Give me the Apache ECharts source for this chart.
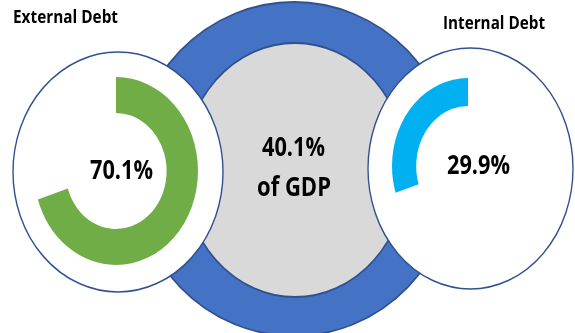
<!DOCTYPE html>
<html>
<head>
<meta charset="utf-8">
<script src="https://cdn.jsdelivr.net/npm/echarts@6/dist/echarts.min.js"></script>
<style>
  html, body { margin: 0; padding: 0; background: #fff; }
  #chart { width: 575px; height: 333px; }
</style>
</head>
<body>
<div id="chart"></div>
<script>
// Debt composition: share of total public debt, and total debt as % of GDP
const debtTypes = ['External Debt', 'Internal Debt'];
const debtShares = [70.1, 29.9];
const totalDebtPctGdp = 40.1;

// Drawing layout for each debt ring (centre, radii, direction, colour)
const ringLayout = [
  { cx: 116, cy: 171, rx: 82, ry: 94, r0y: 58, clockwise: true,  color: '#70AD47' },
  { cx: 468, cy: 166, rx: 76, ry: 88, r0y: 60, clockwise: false, color: '#00B0F0' }
];

const FONT = '"Open Sans", "Liberation Sans", Arial, sans-serif';
const BORDER = '#2F528F';

function ellipse(cx, cy, rx, ry, fill, stroke, lw, z) {
  return {
    type: 'circle', x: cx, y: cy, scaleX: rx / ry, z: z,
    shape: { cx: 0, cy: 0, r: ry },
    style: { fill: fill, stroke: stroke, lineWidth: lw, strokeNoScale: true },
    silent: true
  };
}

// fits a bold label into a given width, centred on (x, y)
function label(text, x, y, size, width) {
  const font = 'bold ' + size + 'px ' + FONT;
  const w = echarts.format.getTextRect ? echarts.format.getTextRect(text, font).width : width;
  return {
    type: 'text', x: x, y: y, scaleX: width / w, z: 20,
    style: {
      text: text, fill: '#000', font: font,
      textAlign: 'center', textVerticalAlign: 'middle'
    },
    silent: true
  };
}

const fmt = v => v.toFixed(1) + '%';

const chart = echarts.init(document.getElementById('chart'), null, { renderer: 'canvas' });

chart.setOption({
  animation: false,
  backgroundColor: '#ffffff',
  graphic: {
    elements: [
      // total debt ring and GDP disc
      ellipse(294, 169, 161, 167, '#4472C4', BORDER, 1.8, 0),
      ellipse(295, 170, 112, 127, '#D9D9D9', BORDER, 1.8, 0),
      // panels behind each debt ring
      ellipse(118, 172, 105, 120, '#ffffff', BORDER, 1.6, 0),
      ellipse(470.5, 168.5, 102.5, 120.5, '#ffffff', BORDER, 1.6, 0),
      // texts
      label(debtTypes[0], 65.5, 18, 17, 105),
      label(debtTypes[1], 494, 24.5, 17, 102),
      label(fmt(debtShares[0]), 121.5, 171.5, 26, 63),
      label(fmt(debtShares[1]), 478.5, 167, 26, 63),
      label(fmt(totalDebtPctGdp), 293.5, 149, 26, 63),
      label('of GDP', 294, 188.5, 26, 74)
    ]
  },
  series: [{
    type: 'custom',
    coordinateSystem: 'none',
    z: 10,
    silent: true,
    data: debtShares.map(v => [v]),
    renderItem: function (params, api) {
      const L = ringLayout[params.dataIndex];
      const frac = api.value(0) / 100;
      const start = -Math.PI / 2;
      const sweep = 2 * Math.PI * frac;
      return {
        type: 'sector',
        x: L.cx, y: L.cy, scaleX: L.rx / L.ry,
        shape: {
          cx: 0, cy: 0, r: L.ry, r0: L.r0y,
          startAngle: start,
          endAngle: L.clockwise ? start + sweep : start - sweep,
          clockwise: L.clockwise
        },
        style: { fill: L.color }
      };
    }
  }]
});
</script>
</body>
</html>
